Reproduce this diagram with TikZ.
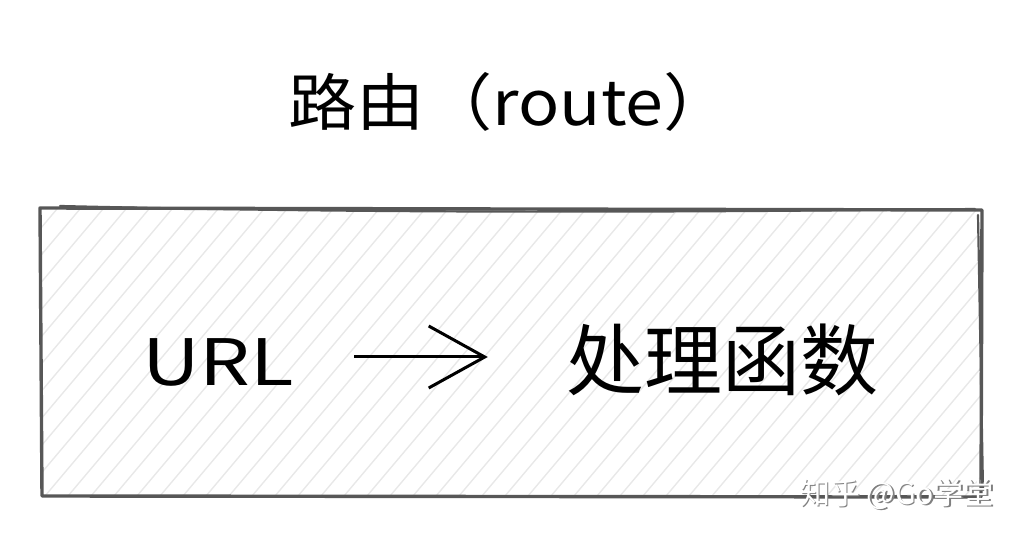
\documentclass[tikz,border=0pt]{standalone}
\usepackage{fontspec}
\setmainfont{Noto Sans CJK SC}
\usetikzlibrary{positioning,arrows.meta}
\definecolor{edgegray}{HTML}{575757}
\definecolor{hatchgray}{HTML}{E8E8E8}

\begin{document}
\begin{tikzpicture}[x=1pt, y=1pt,
  txt/.style={inner sep=0pt, font=\fontsize{62}{62}\selectfont},
  bigtxt/.style={inner sep=0pt, font=\fontsize{78}{78}\selectfont},
  boxline/.style={draw=edgegray, line width=3.4pt, line join=round, line cap=round},
  hatch/.style={hatchgray, line width=1.4pt},
  arr/.style={-{Straight Barb[length=56pt, width=62pt, line width=3pt]}, line width=3pt},
  watermark/.style={inner sep=0pt, font=\fontsize{30}{30}\selectfont}
]
\useasboundingbox (0,0) rectangle (1024,540);

% hatched fill of the box
\begin{scope}
  \clip (41,44) rectangle (981,331);
  \foreach \x in {-300,-277,...,1000}
    \draw[hatch] (\x,44) -- ++(242,287);
\end{scope}

% sketchy frame
\draw[boxline] (40,332) -- (982,330) -- (981,43) -- (42,44) -- cycle;
\draw[boxline, line width=2.2pt] (60,334) .. controls (400,326) and (700,328) .. (975,331);
\draw[boxline, line width=2.2pt] (978,325) -- (983,50);

% texts
\node[txt, xscale=1.1] (title) at (510,438) {路由（route）};
\node[txt, font=\fontsize{64}{64}\selectfont, xscale=1.25] (url) at (218,178) {URL};
\node[bigtxt] (func) at (722,180) {处理函数};

\draw[arr] ([xshift=60pt, yshift=5pt]url.east) -- ([xshift=-78pt, yshift=5pt]url.east -| func.west);

% watermark
\node[watermark, text=gray] at (898.5,44.5) {知乎 @Go学堂};
\node[watermark, text=white] (wm) at (897,46) {知乎 @Go学堂};
\end{tikzpicture}
\end{document}
